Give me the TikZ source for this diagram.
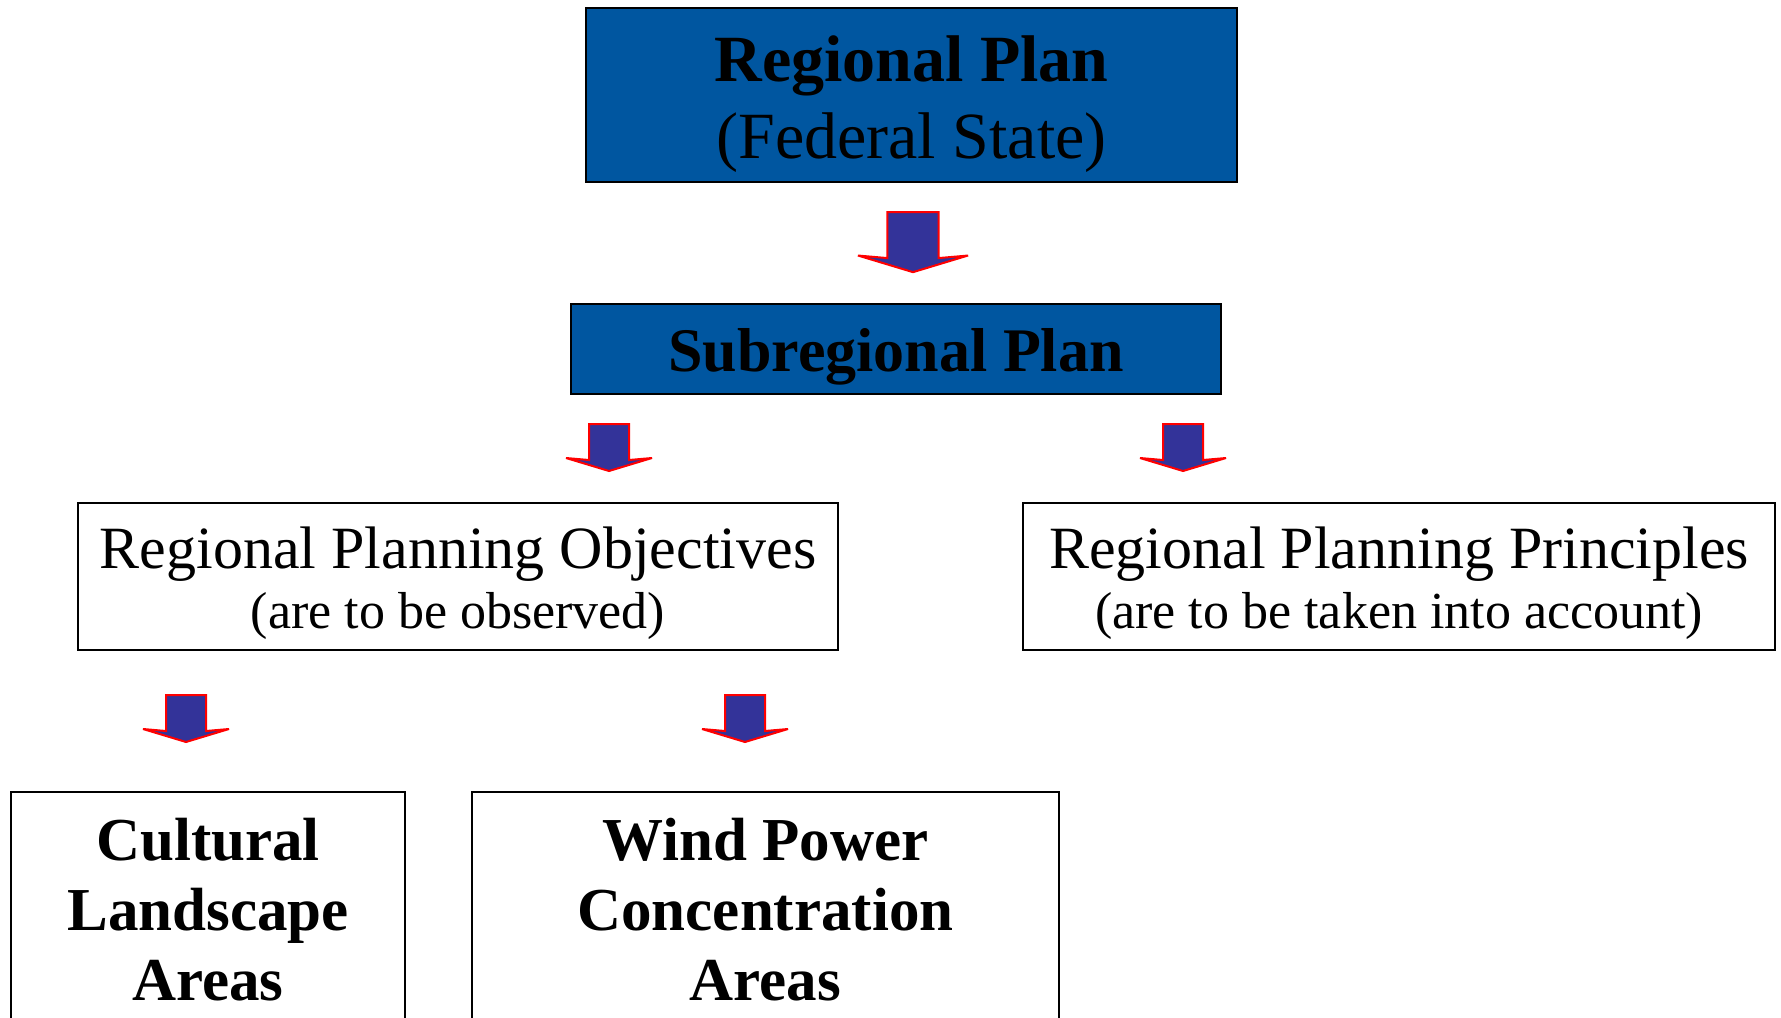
\documentclass[tikz,border=0pt]{standalone}
\usepackage{fontspec}
\setmainfont{Liberation Serif}
\usepackage{tikz}
\definecolor{planblue}{RGB}{0,86,160}
\definecolor{arrowblue}{RGB}{51,51,153}
\tikzstyle{planbox} = [ rectangle, draw = black, line width = 1pt, %
                        fill = planblue, align = center, inner sep = 0pt ]
\tikzstyle{textbox} = [ rectangle, draw = black, line width = 0.8pt, %
                        fill = white, align = center, inner sep = 0pt ]
\tikzset{downarrow/.pic = {
  \path [fill = arrowblue, draw = red, line width = 1pt, miter limit = 4] %
    (-20,0) -- (20,0) -- (20,36) -- (43,34) -- (0,47) -- (-43,34) %
    -- (-20,36) -- cycle;}}
\newcommand{\smalltext}{\fontsize{26}{30}\selectfont}

\begin{document}
\begin{tikzpicture}[x = 0.5pt, y = -0.5pt]
      \useasboundingbox (0,0) rectangle (1781,1017);
      % Boxes
      \node (regional) [planbox, minimum width = 325.5pt, minimum height = 87pt, %
        font = \fontsize{33}{38.5}\selectfont, text height = 71pt] at (911.5,95)
        {\textbf{Regional Plan}\\ (Federal State)};
      \node (subregional) [planbox, minimum width = 325pt, minimum height = 45pt, %
        font = \fontsize{31}{36}\selectfont\bfseries, text height = 29pt] %
        at (896,349) {Subregional Plan};
      \node (objectives) [textbox, minimum width = 380pt, minimum height = 73.5pt, %
        font = \fontsize{30}{30}\selectfont, text height = 57.5pt] at (458,576.5)
        {Regional Planning Objectives\\ \smalltext (are to be observed)};
      \node (principles) [textbox, minimum width = 376pt, minimum height = 73.5pt, %
        font = \fontsize{30}{30}\selectfont, text height = 57.5pt] at (1399,576.5)
        {Regional Planning Principles\\ \smalltext (are to be taken into account)};
      \node (cultural) [textbox, minimum width = 197pt, minimum height = 117.5pt, %
        font = \fontsize{30.5}{35}\selectfont\bfseries] at (208,909.5)
        {Cultural\\ Landscape\\ Areas};
      \node (wind) [textbox, minimum width = 293.5pt, minimum height = 117.5pt, %
        font = \fontsize{30.5}{35}\selectfont\bfseries] at (765.5,909.5)
        {Wind Power\\ Concentration\\ Areas};
      % Arrows
      \pic (toRegional)   [scale = 1.28] at (913,212)  {downarrow};
      \pic (toObjectives)               at (609,424)  {downarrow};
      \pic (toPrinciples)               at (1183,424) {downarrow};
      \pic (toCultural)                 at (186,695)  {downarrow};
      \pic (toWind)                     at (745,695)  {downarrow};
    \end{tikzpicture}
\end{document}
